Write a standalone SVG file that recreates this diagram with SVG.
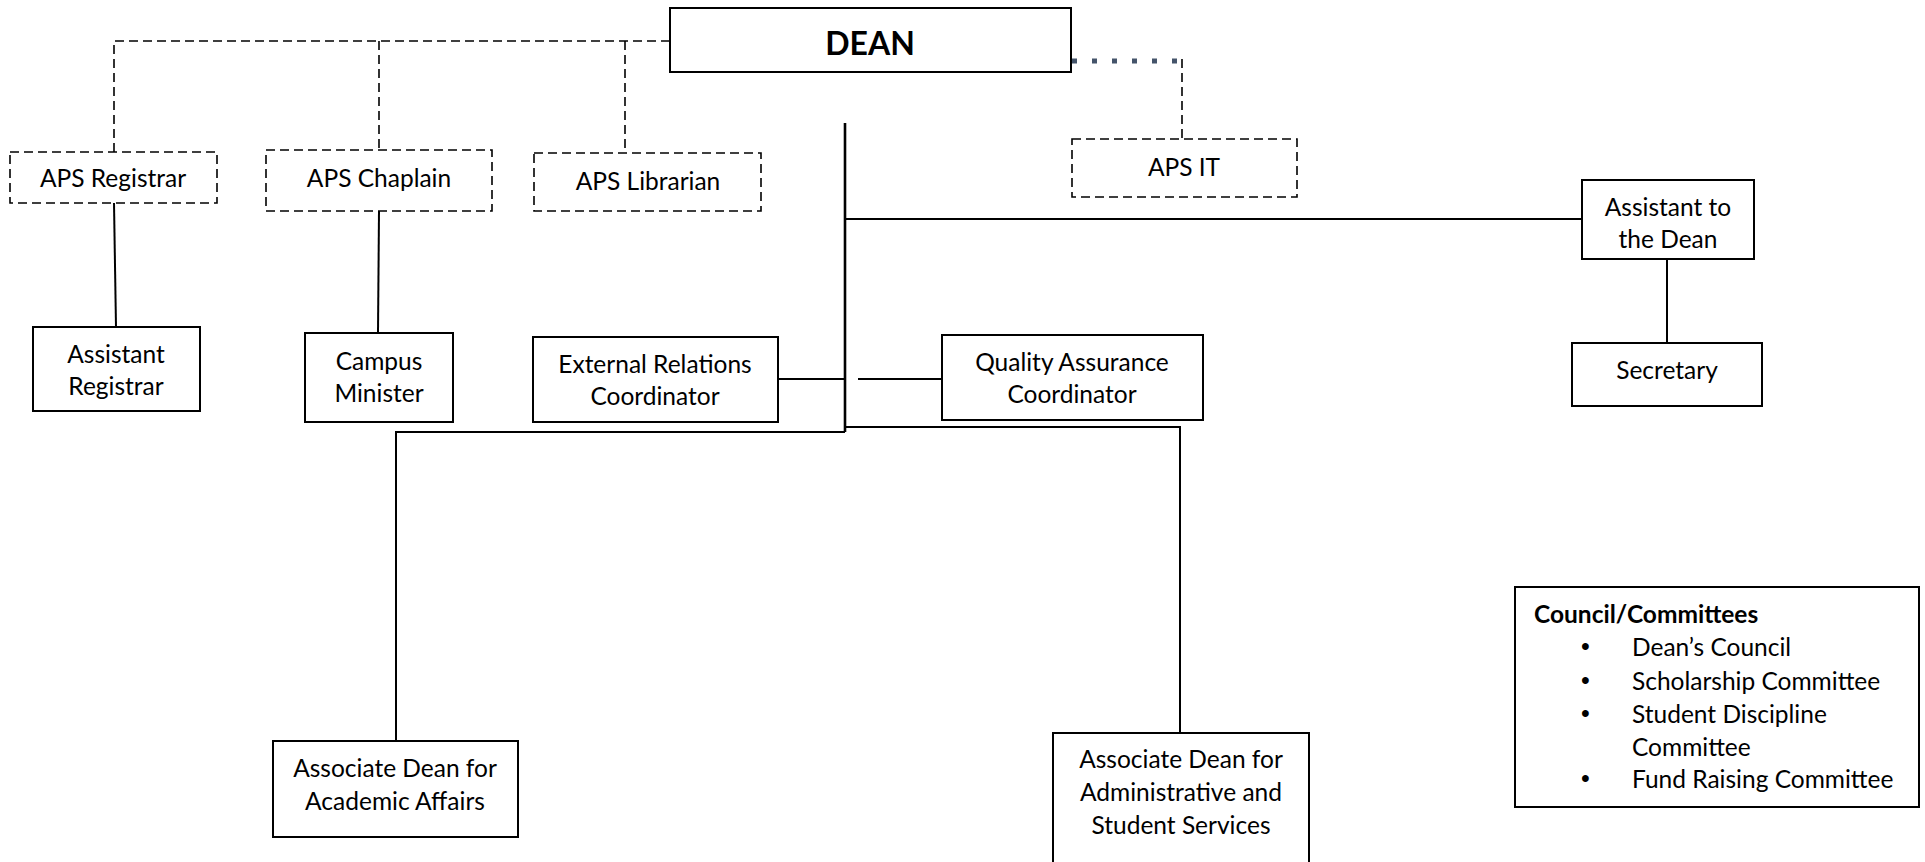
<svg xmlns="http://www.w3.org/2000/svg" width="1925" height="862" viewBox="0 0 1925 862">
  <style>
    .box { fill: #ffffff; stroke: #000000; stroke-width: 2; }
    .dbox { fill: #ffffff; stroke: #000000; stroke-width: 1.6; stroke-dasharray: 9 5; }
    .lbl { font-family: Lato, "Liberation Sans", sans-serif; font-size: 24.5px; fill: #000000; text-anchor: middle; }
    .txt { font-family: Lato, "Liberation Sans", sans-serif; font-size: 24.5px; fill: #000000; }
    .bul { font-family: "Liberation Sans", sans-serif; font-size: 25px; fill: #000000; }
    .bold { font-weight: bold; }
    .solid { fill: none; stroke: #000000; stroke-width: 2; }
    .trunk { fill: none; stroke: #000000; stroke-width: 2.6; }
    .dash { fill: none; stroke: #000000; stroke-width: 1.6; stroke-dasharray: 9 5; }
    .dot { fill: none; stroke: #44546A; stroke-width: 5; stroke-dasharray: 5 15; }
  </style>
  <rect width="1925" height="862" fill="#ffffff"/>

  <!-- connectors -->
  <g id="connectors">
    <!-- dashed advisory links from the Dean -->
    <path class="dash" d="M670,41 H114 V152"/>
    <path class="dash" d="M379,41 V150"/>
    <path class="dash" d="M625,41 V153"/>
    <path class="dot" d="M1072,61 H1182"/>
    <path class="dash" d="M1182,59 V139"/>
    <!-- solid reporting lines -->
    <path class="solid" d="M114,203 L116,327"/>
    <path class="solid" d="M379,211 L378,333"/>
    <path class="solid" d="M1667,259 V343"/>
    <path class="trunk" d="M845,123 V432"/>
    <path class="solid" d="M845,219 H1582"/>
    <path class="solid" d="M778,379 H845"/>
    <path class="solid" d="M858,379 H942"/>
    <path class="solid" d="M845,432 H396 V741"/>
    <path class="solid" d="M845,427 H1180 V733"/>
  </g>

  <g id="dean">
    <rect class="box" x="670" y="8" width="401" height="64"/>
    <text class="lbl bold" x="870" y="55" style="font-size:32px">DEAN</text>
  </g>
  <g id="aps-registrar">
    <rect class="dbox" x="10" y="152" width="207" height="51"/>
    <text class="lbl" x="113" y="187">APS Registrar</text>
  </g>
  <g id="aps-chaplain">
    <rect class="dbox" x="266" y="150" width="226" height="61"/>
    <text class="lbl" x="379" y="187">APS Chaplain</text>
  </g>
  <g id="aps-librarian">
    <rect class="dbox" x="534" y="153" width="227" height="58"/>
    <text class="lbl" x="648" y="190">APS Librarian</text>
  </g>
  <g id="aps-it">
    <rect class="dbox" x="1072" y="139" width="225" height="58"/>
    <text class="lbl" x="1184" y="176">APS IT</text>
  </g>
  <g id="assistant-to-dean">
    <rect class="box" x="1582" y="180" width="172" height="79"/>
    <text class="lbl" x="1668" y="216">Assistant to</text>
    <text class="lbl" x="1668" y="248">the Dean</text>
  </g>
  <g id="secretary">
    <rect class="box" x="1572" y="343" width="190" height="63"/>
    <text class="lbl" x="1667" y="379">Secretary</text>
  </g>
  <g id="assistant-registrar">
    <rect class="box" x="33" y="327" width="167" height="84"/>
    <text class="lbl" x="116" y="363">Assistant</text>
    <text class="lbl" x="116" y="395">Registrar</text>
  </g>
  <g id="campus-minister">
    <rect class="box" x="305" y="333" width="148" height="89"/>
    <text class="lbl" x="379" y="370">Campus</text>
    <text class="lbl" x="379" y="402">Minister</text>
  </g>
  <g id="external-relations">
    <rect class="box" x="533" y="337" width="245" height="85"/>
    <text class="lbl" x="655" y="373">External Relations</text>
    <text class="lbl" x="655" y="405">Coordinator</text>
  </g>
  <g id="quality-assurance">
    <rect class="box" x="942" y="335" width="261" height="85"/>
    <text class="lbl" x="1072" y="371">Quality Assurance</text>
    <text class="lbl" x="1072" y="403">Coordinator</text>
  </g>
  <g id="assoc-dean-academic">
    <rect class="box" x="273" y="741" width="245" height="96"/>
    <text class="lbl" x="395" y="777">Associate Dean for</text>
    <text class="lbl" x="395" y="810">Academic Affairs</text>
  </g>
  <g id="assoc-dean-admin">
    <rect class="box" x="1053" y="733" width="256" height="150"/>
    <text class="lbl" x="1181" y="768">Associate Dean for</text>
    <text class="lbl" x="1181" y="801">Administrative and</text>
    <text class="lbl" x="1181" y="834">Student Services</text>
  </g>
  <g id="committees">
    <rect class="box" x="1515" y="587" width="404" height="220"/>
    <text class="txt bold" x="1534" y="623">Council/Committees</text>
    <g class="bul">
      <text x="1581" y="655">•</text>
      <text x="1581" y="689">•</text>
      <text x="1581" y="722">•</text>
      <text x="1581" y="787">•</text>
    </g>
    <g class="txt">
      <text x="1632" y="656">Dean’s Council</text>
      <text x="1632" y="690">Scholarship Committee</text>
      <text x="1632" y="723">Student Discipline</text>
      <text x="1632" y="756">Committee</text>
      <text x="1632" y="788">Fund Raising Committee</text>
    </g>
  </g>
</svg>
